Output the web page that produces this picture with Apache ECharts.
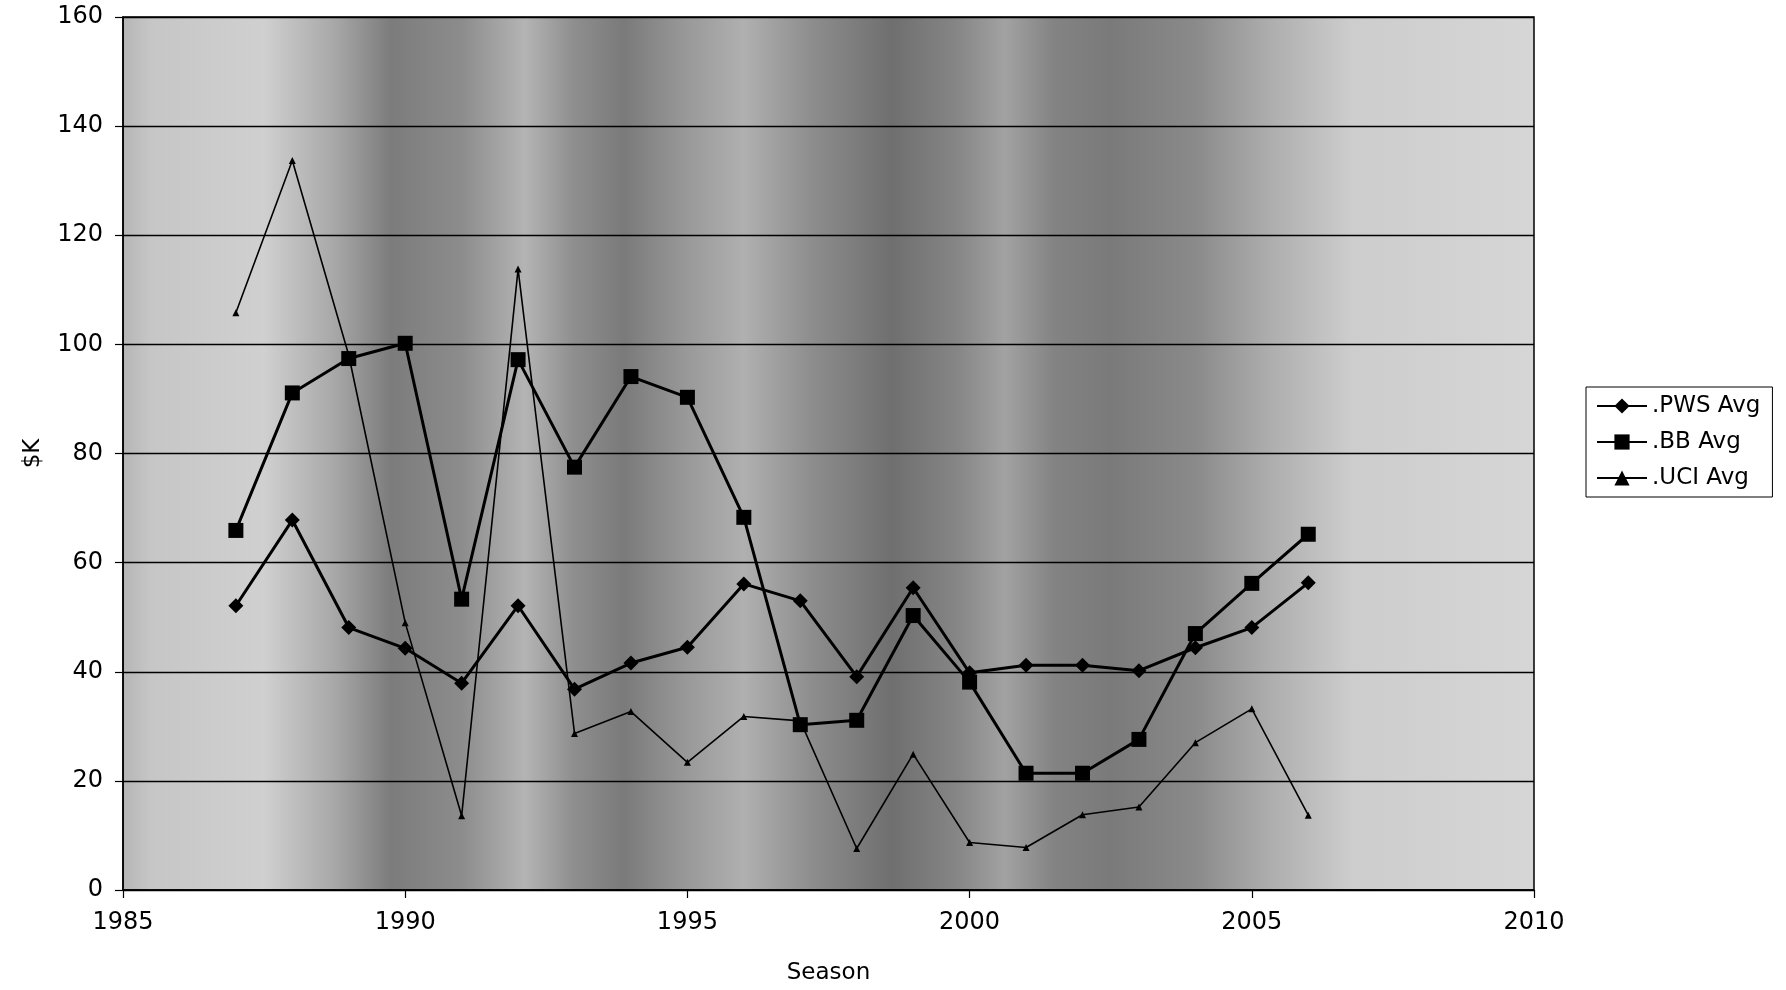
<!DOCTYPE html>
<html>
<head>
<meta charset="utf-8">
<script src="https://cdn.jsdelivr.net/npm/echarts@6/dist/echarts.min.js"></script>
<style>
  html, body { margin: 0; padding: 0; background: #fff; }
  #chart { width: 1786px; height: 990px; }
</style>
</head>
<body>
<div id="chart"></div>
<script>
// values ($K per season)
const seasons = [1987, 1988, 1989, 1990, 1991, 1992, 1993, 1994, 1995, 1996,
                 1997, 1998, 1999, 2000, 2001, 2002, 2003, 2004, 2005, 2006];
const pwsAvg = [52.1, 67.8, 48.1, 44.3, 37.9, 52.1, 36.8, 41.6, 44.5, 56.1,
                53.0, 39.1, 55.4, 39.8, 41.2, 41.2, 40.2, 44.4, 48.1, 56.3];
const bbAvg  = [65.9, 91.1, 97.4, 100.2, 53.3, 97.2, 77.5, 94.1, 90.3, 68.3,
                30.3, 31.1, 50.3, 38.1, 21.4, 21.4, 27.6, 47.0, 56.2, 65.2];
const uciAvg = [105.8, 133.7, 98.0, 49.0, 13.6, 113.8, 28.7, 32.7, 23.4, 31.8,
                31.0, 7.6, 24.9, 8.7, 7.8, 13.8, 15.2, 27.0, 33.2, 13.7];
const legendNames = ['.PWS Avg', '.BB Avg', '.UCI Avg'];
const xTicks = { min: 1985, max: 2010, step: 5 };
const yTicks = { min: 0, max: 160, step: 20 };

const font = '"DejaVu Sans", Verdana, sans-serif';
const pairs = (vals) => seasons.map((s, i) => [s, vals[i]]);

// rough stand-in for the grainy scan background (dark vertical bands)
const bandStops = [
  [0, '#b5b5b5'], [0.02, '#c6c6c6'], [0.10, '#d0d0d0'], [0.15, '#a8a8a8'],
  [0.19, '#7c7c7c'], [0.24, '#8c8c8c'], [0.285, '#b4b4b4'], [0.32, '#8e8e8e'],
  [0.355, '#7a7a7a'], [0.40, '#999999'], [0.44, '#b0b0b0'], [0.49, '#8c8c8c'],
  [0.545, '#6f6f6f'], [0.59, '#858585'], [0.625, '#a2a2a2'], [0.66, '#838383'],
  [0.70, '#7a7a7a'], [0.76, '#8a8a8a'], [0.81, '#acacac'], [0.87, '#cdcdcd'],
  [1, '#d6d6d6']
].map(([offset, color]) => ({ offset, color }));

const myChart = echarts.init(document.getElementById('chart'), null, { renderer: 'canvas' });

const option = {
  animation: false,
  backgroundColor: '#fff',
  textStyle: { fontFamily: font, color: '#000' },
  grid: {
    left: 123,
    right: 252,
    top: 17,
    bottom: 100,
    show: true,
    borderColor: '#000',
    borderWidth: 1.5,
    backgroundColor: new echarts.graphic.LinearGradient(0, 0, 1, 0, bandStops)
  },
  legend: {
    data: legendNames,
    orient: 'vertical',
    left: 1586,
    top: 387,
    padding: [6, 12, 6, 10],
    itemGap: 10,
    itemWidth: 50,
    itemHeight: 19,
    borderColor: '#000',
    borderWidth: 1,
    backgroundColor: '#fff',
    textStyle: { fontFamily: font, fontSize: 23, color: '#000', lineHeight: 26 }
  },
  xAxis: {
    type: 'value',
    min: xTicks.min,
    max: xTicks.max,
    interval: xTicks.step,
    name: 'Season',
    nameLocation: 'middle',
    nameGap: 72,
    nameTextStyle: { fontFamily: font, fontSize: 23, color: '#000' },
    axisLine: { show: true, lineStyle: { color: '#000', width: 1.5 } },
    axisTick: { show: true, length: 8, lineStyle: { color: '#000', width: 1.2 } },
    axisLabel: {
      fontFamily: font, fontSize: 24, color: '#000', margin: 21,
      formatter: (v) => String(v)
    },
    splitLine: { show: false }
  },
  yAxis: {
    type: 'value',
    min: yTicks.min,
    max: yTicks.max,
    interval: yTicks.step,
    name: '$K',
    nameLocation: 'middle',
    nameRotate: 90,
    nameGap: 78,
    nameTextStyle: { fontFamily: font, fontSize: 23, color: '#000' },
    axisLine: { show: true, lineStyle: { color: '#000', width: 1.5 } },
    axisTick: { show: true, length: 8, lineStyle: { color: '#000', width: 1.2 } },
    axisLabel: { fontFamily: font, fontSize: 24, color: '#000', margin: 20 },
    splitLine: { show: true, lineStyle: { color: '#000', width: 1.3 } }
  },
  series: [
    {
      name: legendNames[0],
      type: 'line',
      data: pairs(pwsAvg),
      symbol: 'diamond',
      symbolSize: 15,
      lineStyle: { color: '#000', width: 3 },
      itemStyle: { color: '#000' },
      z: 3
    },
    {
      name: legendNames[1],
      type: 'line',
      data: pairs(bbAvg),
      symbol: 'rect',
      symbolSize: 15,
      lineStyle: { color: '#000', width: 3 },
      itemStyle: { color: '#000' },
      z: 3
    },
    {
      name: legendNames[2],
      type: 'line',
      data: pairs(uciAvg),
      symbol: 'triangle',
      symbolSize: 7,
      lineStyle: { color: '#000', width: 1.6 },
      itemStyle: { color: '#000' },
      z: 2
    }
  ]
};

myChart.setOption(option);
window.addEventListener('resize', () => myChart.resize());
</script>
</body>
</html>
